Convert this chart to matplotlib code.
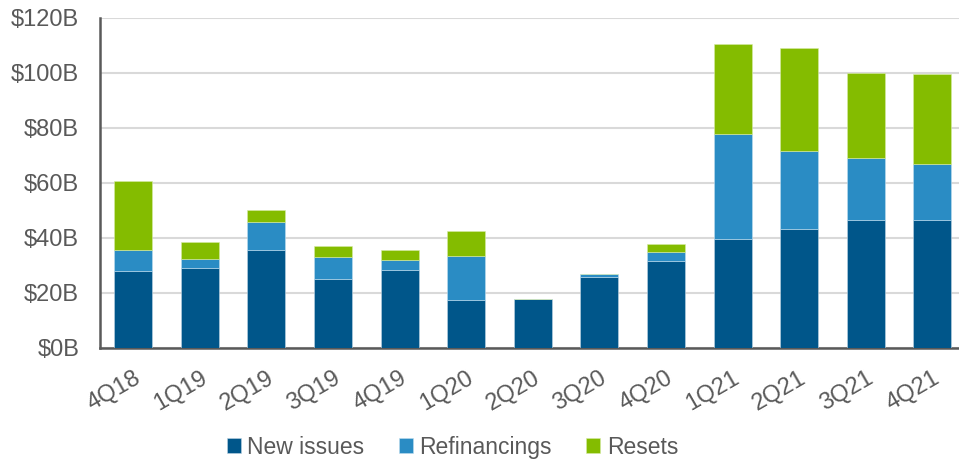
import matplotlib.pyplot as plt
import numpy as np

plt.rcParams['font.family'] = ['Liberation Sans', 'DejaVu Sans']

quarters = ["4Q18", "1Q19", "2Q19", "3Q19", "4Q19", "1Q20", "2Q20",
            "3Q20", "4Q20", "1Q21", "2Q21", "3Q21", "4Q21"]
new_issues = [27.7, 29.1, 35.6, 24.9, 28.2, 17.4, 17.6, 25.5, 31.5, 39.6, 43.0, 46.3, 46.5]
refinancings = [7.9, 3.1, 10.2, 7.9, 3.5, 16.1, 0.0, 1.3, 3.4, 38.3, 28.5, 22.6, 20.2]
resets = [24.9, 6.3, 4.1, 4.0, 3.8, 8.9, 0.0, 0.0, 2.8, 32.6, 37.6, 31.0, 33.0]

c_new = "#00568A"
c_ref = "#2A8CC4"
c_res = "#84BC00"
txt = "#595959"

x = np.arange(len(quarters))
new_arr = np.array(new_issues)
ref_arr = np.array(refinancings)
res_arr = np.array(resets)

fig = plt.figure(figsize=(9.59, 4.63), dpi=100)
ax = fig.add_axes([100 / 959, 1 - 347.5 / 463, 1 - 100 / 959, (347.5 - 18) / 463])

w = 0.57
ax.bar(x, new_arr, w, color=c_new, edgecolor="#BFD5E3", linewidth=0.4, label="New issues", zorder=3)
ax.bar(x, ref_arr, w, bottom=new_arr, color=c_ref, edgecolor="#BFDDEE", linewidth=0.4,
       label="Refinancings", zorder=3)
ax.bar(x, res_arr, w, bottom=new_arr + ref_arr, color=c_res, edgecolor="#D6EBA6", linewidth=0.4,
       label="Resets", zorder=3)

ax.set_ylim(0, 120)
ax.set_xlim(-0.5, 12.4)
ax.set_yticks(range(0, 121, 20))
ax.set_yticklabels([f"${v}B" for v in range(0, 121, 20)])
ax.set_xticks(x)
ax.set_xticklabels(quarters, rotation=30, ha="right", rotation_mode="anchor")

ax.yaxis.grid(True, color="#D9D9D9", linewidth=1.5, zorder=0)
ax.set_axisbelow(True)
for s in ["top", "right"]:
    ax.spines[s].set_visible(False)
for s in ["left", "bottom"]:
    ax.spines[s].set_color(txt)
    ax.spines[s].set_linewidth(1.8)
ax.tick_params(axis="both", length=0, labelsize=17, colors=txt)
ax.tick_params(axis="y", pad=15)
ax.tick_params(axis="x", pad=14)

fig.legend(loc="lower center", bbox_to_anchor=(0.472, -0.035), ncol=3, frameon=False,
           fontsize=16.5, labelcolor=txt, handlelength=0.6, handleheight=0.6,
           handletextpad=0.3, columnspacing=1.5)

fig.savefig("out.png", dpi=100)
